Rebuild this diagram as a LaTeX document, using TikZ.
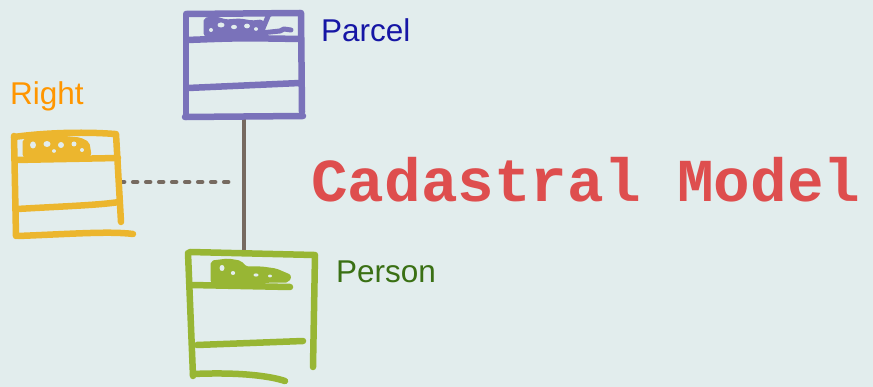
\documentclass[tikz,border=0pt]{standalone}
\usepackage{fontspec}
\setmainfont{Liberation Sans}
\newfontfamily\monob{Liberation Mono}
\definecolor{bg}{RGB}{226,237,237}
\definecolor{purp}{RGB}{122,114,186}
\definecolor{parcelblue}{RGB}{22,22,165}
\definecolor{yel}{RGB}{236,182,46}
\definecolor{orng}{RGB}{255,150,0}
\definecolor{grn}{RGB}{152,182,52}
\definecolor{darkgrn}{RGB}{58,112,20}
\definecolor{redt}{RGB}{222,78,78}
\definecolor{conngray}{RGB}{118,106,96}
\begin{document}
\begin{tikzpicture}[x=1pt,y=-1pt,
  marker/.style={line width=6.5pt,line cap=round,line join=round},
  scrib/.style={line width=5pt,line cap=round,line join=round},
  blob/.style={line width=3pt,line join=round,rounded corners=2pt},
  hole/.style={fill=bg},
  boxarea/.style={draw=none,inner sep=0pt,rectangle},
  label/.style={inner sep=0pt,anchor=base west,font=\fontsize{31.5}{36}\selectfont},
  conn/.style={conngray,line width=4pt,line cap=round},
  dotconn/.style={conngray,line width=4.5pt,line cap=round,dash pattern=on 4pt off 9pt}]
\path[fill=bg] (0,0) rectangle (873,387);
\useasboundingbox (0,0) rectangle (873,387);

% invisible areas of the three boxes
\node[boxarea,minimum width=117pt,minimum height=104pt] (parcel) at (244,65) {};
\node[boxarea,minimum width=106pt,minimum height=100pt] (right) at (67,182) {};
\node[boxarea,minimum width=126pt,minimum height=124pt] (person) at (251,315) {};
\coordinate (dotend) at (235,182);

% connectors
\draw[conn] (parcel.south) -- (parcel.south |- person.north);
\draw[dotconn] (right.east) -- (dotend);

% Parcel box
\begin{scope}[purp]
\draw[marker] (187,14) -- (300,13);
\draw[marker] (186,14) -- (186,117);
\draw[marker] (301,13) -- (302,112);
\draw[marker] (187,40) .. controls (240,38) .. (300,39);
\draw[marker] (188,88) -- (300,83);
\draw[marker] (185,117) -- (303,116);
\filldraw[blob] (205,19) -- (216,18) -- (226,21) -- (240,20) -- (252,22) -- (262,21) -- (263,34) -- (205,35) -- cycle;
\draw[scrib] (269,14) -- (261,33) -- (280,31) -- (284,29) -- (291,30);
\end{scope}
\fill[hole] (221,25) ellipse (3.5pt and 2.5pt) (234,27) ellipse (3pt and 2.2pt) (247,26) ellipse (3pt and 2.4pt) (211,30) ellipse (2pt and 2pt) (256,29) ellipse (2pt and 1.8pt);

% Right box
\begin{scope}[yel]
\draw[marker] (14,137) .. controls (50,132) and (90,132) .. (115,134);
\draw[marker] (14,136) -- (16,236);
\draw[marker] (116,134) -- (121,222);
\draw[marker] (15,160) -- (118,158);
\draw[marker] (17,209) .. controls (70,206) and (100,205) .. (119,202);
\draw[marker] (18,236) .. controls (70,234) and (110,231) .. (133,234);
\filldraw[blob] (24,140) -- (40,138) -- (60,137) -- (80,139) -- (88,143) -- (90,155) -- (24,156) -- cycle;
\end{scope}
\fill[hole] (33,145) ellipse (3pt and 3.5pt) (47,144) ellipse (3.5pt and 3pt) (61,145) ellipse (3pt and 3pt) (74,144) ellipse (2.5pt and 2.5pt) (82,150) ellipse (2pt and 2pt) (54,151) ellipse (2pt and 1.8pt);

% Person box
\begin{scope}[grn]
\draw[marker] (190,252) -- (314,255);
\draw[marker] (188,253) -- (193,376);
\draw[marker] (315,255) -- (313,367);
\draw[marker] (191,285) -- (290,287);
\draw[marker] (197,345) -- (303,341);
\draw[marker] (193,374) .. controls (240,372) and (270,376) .. (285,381);
\filldraw[blob] (212,262) -- (228,260) -- (240,262) -- (246,268) -- (262,268) -- (276,270) -- (290,276) -- (288,281) -- (212,282) -- cycle;
\end{scope}
\fill[hole] (222,268) ellipse (2.5pt and 3pt) (233,273) ellipse (2.2pt and 2pt) (256,275) ellipse (2.5pt and 1.6pt) (270,276) ellipse (2pt and 1.4pt);

% labels
\node[label,text=parcelblue] (parcellbl) at (321,42) {Parcel};
\node[label,text=orng] (rightlbl) at (10,105) {Right};
\node[label,text=darkgrn] (personlbl) at (336,283) {Person};
\node[inner sep=0pt,anchor=base west,text=redt,font=\monob\bfseries\fontsize{61}{70}\selectfont] (title) at (311,202) {Cadastral Model};
\end{tikzpicture}
\end{document}
